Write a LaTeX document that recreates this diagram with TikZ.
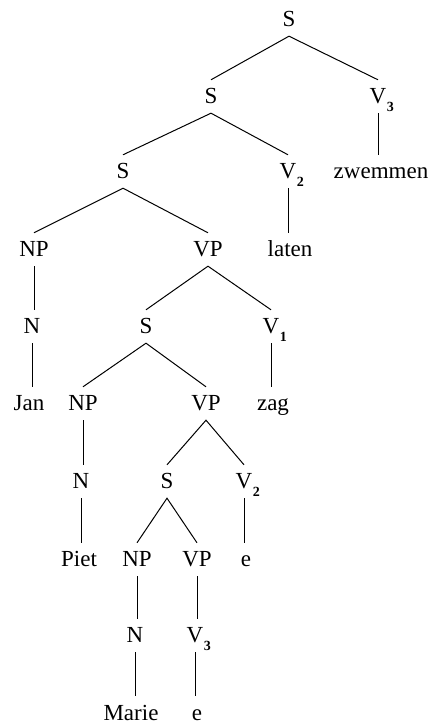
\documentclass[tikz,border=0pt]{standalone}
\usepackage{fontspec}
\setmainfont{Liberation Serif}
\newcommand{\vsub}[1]{\rlap{\kern0.5pt\raisebox{-0.34em}{\fontsize{14pt}{14pt}\selectfont\bfseries #1}}}
\begin{document}
\begin{tikzpicture}[x=1pt,y=1pt,
  lbl/.style={anchor=base, font=\fontsize{23pt}{23pt}\selectfont, text height=15pt, text depth=0pt, inner xsep=0pt, inner ysep=9pt},
  br/.style={line width=1pt}]
\useasboundingbox (0,0) rectangle (432,725);
% row 1
\node[lbl] (s1) at (289,698) {S};
% row 2
\node[lbl] (s2) at (211,621) {S};
\node[lbl] (v3a) at (378,621) {V\vsub{3}};
% row 3
\node[lbl] (s3) at (123,546) {S};
\node[lbl] (v2a) at (288,546) {V\vsub{2}};
\node[lbl] (zw) at (381,546) {zwemmen};
% row 4
\node[lbl] (np1) at (34,468) {NP};
\node[lbl] (vp1) at (208,468) {VP};
\node[lbl] (laten) at (290,468) {laten};
% row 5
\node[lbl] (n1) at (32,391) {N};
\node[lbl] (s4) at (146,391) {S};
\node[lbl] (v1) at (271,391) {V\vsub{1}};
% row 6
\node[lbl] (jan) at (29,314) {Jan};
\node[lbl] (np2) at (83,314) {NP};
\node[lbl] (vp2) at (206,314) {VP};
\node[lbl] (zag) at (273,314) {zag};
% row 7
\node[lbl] (n2) at (81,236) {N};
\node[lbl] (s5) at (167,236) {S};
\node[lbl] (v2b) at (244,236) {V\vsub{2}};
% row 8
\node[lbl] (piet) at (79,158) {Piet};
\node[lbl] (np3) at (137,158) {NP};
\node[lbl] (vp3) at (197,158) {VP};
\node[lbl] (e1) at (246,158) {e};
% row 9
\node[lbl] (n3) at (135,82) {N};
\node[lbl] (v3b) at (195,82) {V\vsub{3}};
% row 10
\node[lbl] (marie) at (131,5) {Marie};
\node[lbl] (e2) at (197,5) {e};
% branches
\draw[br] (s2.north) -- (s1.south) -- (v3a.north);
\draw[br] (v3a.south) -- (v3a.south |- zw.north);
\draw[br] (s3.north) -- (s2.south) -- (v2a.north);
\draw[br] (v2a.south) -- (v2a.south |- laten.north);
\draw[br] (np1.north) -- (s3.south) -- (vp1.north);
\draw[br] (np1.south) -- (np1.south |- n1.north);
\draw[br] (n1.south) -- (n1.south |- jan.north);
\draw[br] (s4.north) -- (vp1.south) -- (v1.north);
\draw[br] (v1.south) -- (v1.south |- zag.north);
\draw[br] (np2.north) -- (s4.south) -- (vp2.north);
\draw[br] (np2.south) -- (np2.south |- n2.north);
\draw[br] (n2.south) -- (n2.south |- piet.north);
\draw[br] (s5.north) -- (vp2.south) -- (v2b.north);
\draw[br] (v2b.south) -- (v2b.south |- e1.north);
\draw[br] (np3.north) -- (s5.south) -- (vp3.north);
\draw[br] (np3.south) -- (np3.south |- n3.north);
\draw[br] (n3.south) -- (n3.south |- marie.north);
\draw[br] (vp3.south) -- (vp3.south |- v3b.north);
\draw[br] (v3b.south) -- (v3b.south |- e2.north);
\end{tikzpicture}
\end{document}
